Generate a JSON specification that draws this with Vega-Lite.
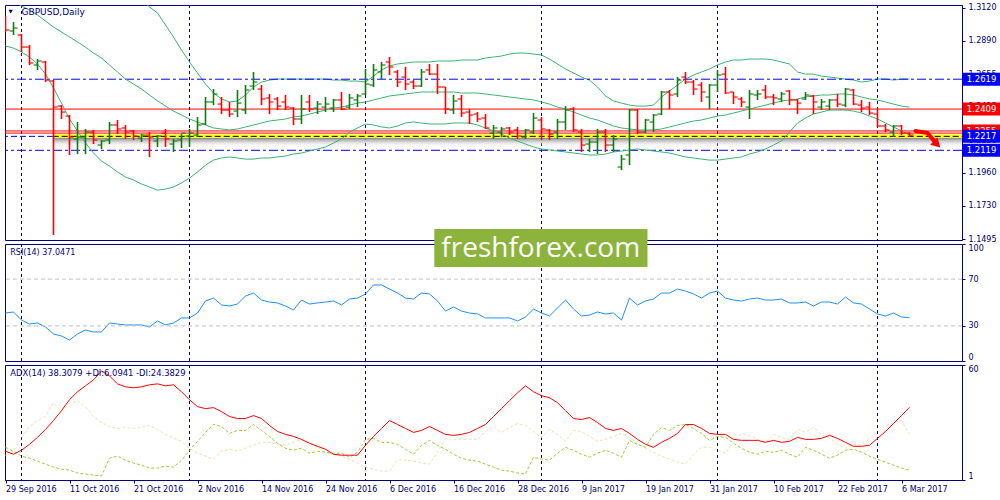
{
"$schema":"https://vega.github.io/schema/vega-lite/v6.json",
"background":"white",
"padding":{"left":3,"top":3,"right":0,"bottom":0},
"spacing":4,
"bounds":"flush",
"config":{
 "view":{"stroke":"#000080","strokeWidth":1,"fill":"white"},
 "axis":{"labelFont":"DejaVu Sans","labelFontSize":8,"labelColor":"#000066","domainColor":"#000080","tickColor":"#000080","grid":false,"tickSize":3,"labelPadding":3,"labelOverlap":false},
 "text":{"font":"DejaVu Sans"}
},
"datasets":{
"seps":[{"i":2},{"i":23},{"i":45},{"i":67},{"i":89},{"i":109}],
"bars":[
{"i":0,"o":1.3056,"h":1.3060,"l":1.2951,"c":1.2965,"u":1.3584,"m":1.3197,"lb":1.2852,"rsi":41.0,"adx":15.75,"pdi":17.78,"mdi":13.72},
{"i":1,"o":1.2958,"h":1.3021,"l":1.2930,"c":1.2979,"u":1.3570,"m":1.3169,"lb":1.2838,"rsi":41.9,"adx":14.22,"pdi":15.75,"mdi":15.75},
{"i":2,"o":1.2930,"h":1.2937,"l":1.2810,"c":1.2845,"u":1.3549,"m":1.3134,"lb":1.2810,"rsi":35.0,"adx":16.26,"pdi":13.21,"mdi":22.36},
{"i":3,"o":1.2845,"h":1.2860,"l":1.2719,"c":1.2733,"u":1.3528,"m":1.3106,"lb":1.2775,"rsi":31.6,"adx":19.31,"pdi":12.19,"mdi":28.46},
{"i":4,"o":1.2719,"h":1.2761,"l":1.2684,"c":1.2747,"u":1.3514,"m":1.3071,"lb":1.2726,"rsi":32.5,"adx":22.87,"pdi":10.66,"mdi":31.52},
{"i":5,"o":1.2740,"h":1.2747,"l":1.2599,"c":1.2613,"u":1.3500,"m":1.3028,"lb":1.2655,"rsi":29.1,"adx":26.94,"pdi":9.14,"mdi":33.55},
{"i":6,"o":1.2606,"h":1.2613,"l":1.1523,"c":1.2423,"u":1.3486,"m":1.2986,"lb":1.2557,"rsi":23.1,"adx":31.52,"pdi":7.61,"mdi":40.67},
{"i":7,"o":1.2430,"h":1.2437,"l":1.2339,"c":1.2388,"u":1.3472,"m":1.2951,"lb":1.2451,"rsi":21.4,"adx":36.60,"pdi":6.59,"mdi":36.09},
{"i":8,"o":1.2360,"h":1.2367,"l":1.2086,"c":1.2212,"u":1.3457,"m":1.2916,"lb":1.2339,"rsi":17.9,"adx":42.20,"pdi":6.09,"mdi":40.16},
{"i":9,"o":1.2198,"h":1.2318,"l":1.2093,"c":1.2212,"u":1.3443,"m":1.2881,"lb":1.2255,"rsi":23.1,"adx":46.27,"pdi":4.56,"mdi":41.69},
{"i":10,"o":1.2212,"h":1.2269,"l":1.2093,"c":1.2247,"u":1.3429,"m":1.2845,"lb":1.2170,"rsi":26.5,"adx":49.32,"pdi":4.05,"mdi":38.64},
{"i":11,"o":1.2247,"h":1.2262,"l":1.2163,"c":1.2191,"u":1.3415,"m":1.2803,"lb":1.2100,"rsi":24.8,"adx":52.37,"pdi":3.54,"mdi":33.55},
{"i":12,"o":1.2156,"h":1.2191,"l":1.2128,"c":1.2184,"u":1.3401,"m":1.2768,"lb":1.2043,"rsi":24.8,"adx":56.95,"pdi":3.03,"mdi":30.50},
{"i":13,"o":1.2191,"h":1.2318,"l":1.2163,"c":1.2297,"u":1.3373,"m":1.2719,"lb":1.2008,"rsi":32.5,"adx":54.40,"pdi":12.19,"mdi":28.46},
{"i":14,"o":1.2297,"h":1.2332,"l":1.2233,"c":1.2269,"u":1.3338,"m":1.2670,"lb":1.1966,"rsi":31.6,"adx":50.33,"pdi":13.21,"mdi":27.45},
{"i":15,"o":1.2276,"h":1.2297,"l":1.2198,"c":1.2247,"u":1.3289,"m":1.2620,"lb":1.1931,"rsi":30.8,"adx":48.81,"pdi":11.17,"mdi":27.96},
{"i":16,"o":1.2255,"h":1.2262,"l":1.2191,"c":1.2219,"u":1.3232,"m":1.2585,"lb":1.1910,"rsi":30.8,"adx":48.30,"pdi":9.65,"mdi":27.45},
{"i":17,"o":1.2205,"h":1.2233,"l":1.2177,"c":1.2226,"u":1.3183,"m":1.2550,"lb":1.1882,"rsi":30.8,"adx":48.81,"pdi":8.63,"mdi":27.96},
{"i":18,"o":1.2226,"h":1.2247,"l":1.2072,"c":1.2212,"u":1.3127,"m":1.2508,"lb":1.1861,"rsi":29.1,"adx":49.83,"pdi":7.10,"mdi":28.97},
{"i":19,"o":1.2184,"h":1.2226,"l":1.2142,"c":1.2219,"u":1.3085,"m":1.2466,"lb":1.1839,"rsi":34.2,"adx":50.33,"pdi":7.10,"mdi":26.94},
{"i":20,"o":1.2240,"h":1.2269,"l":1.2142,"c":1.2198,"u":1.3000,"m":1.2430,"lb":1.1846,"rsi":30.8,"adx":49.32,"pdi":8.12,"mdi":24.40},
{"i":21,"o":1.2163,"h":1.2198,"l":1.2107,"c":1.2184,"u":1.2916,"m":1.2395,"lb":1.1861,"rsi":32.5,"adx":49.83,"pdi":7.61,"mdi":22.36},
{"i":22,"o":1.2191,"h":1.2233,"l":1.2135,"c":1.2240,"u":1.2824,"m":1.2367,"lb":1.1889,"rsi":36.8,"adx":46.27,"pdi":11.17,"mdi":20.84},
{"i":23,"o":1.2219,"h":1.2269,"l":1.2142,"c":1.2240,"u":1.2740,"m":1.2339,"lb":1.1924,"rsi":36.8,"adx":42.20,"pdi":16.26,"mdi":17.28},
{"i":24,"o":1.2226,"h":1.2353,"l":1.2212,"c":1.2297,"u":1.2663,"m":1.2318,"lb":1.1966,"rsi":41.0,"adx":38.64,"pdi":20.84,"mdi":14.73},
{"i":25,"o":1.2304,"h":1.2494,"l":1.2297,"c":1.2459,"u":1.2585,"m":1.2297,"lb":1.2015,"rsi":51.3,"adx":37.62,"pdi":25.41,"mdi":13.21},
{"i":26,"o":1.2459,"h":1.2550,"l":1.2437,"c":1.2515,"u":1.2522,"m":1.2276,"lb":1.2050,"rsi":53.8,"adx":38.13,"pdi":29.48,"mdi":11.68},
{"i":27,"o":1.2444,"h":1.2494,"l":1.2374,"c":1.2402,"u":1.2480,"m":1.2269,"lb":1.2065,"rsi":47.9,"adx":36.09,"pdi":28.46,"mdi":15.75},
{"i":28,"o":1.2402,"h":1.2459,"l":1.2353,"c":1.2374,"u":1.2459,"m":1.2262,"lb":1.2072,"rsi":47.0,"adx":33.55,"pdi":24.90,"mdi":16.77},
{"i":29,"o":1.2395,"h":1.2543,"l":1.2353,"c":1.2451,"u":1.2466,"m":1.2269,"lb":1.2065,"rsi":48.7,"adx":32.53,"pdi":26.43,"mdi":15.75},
{"i":30,"o":1.2402,"h":1.2578,"l":1.2374,"c":1.2543,"u":1.2508,"m":1.2283,"lb":1.2057,"rsi":55.6,"adx":32.53,"pdi":26.43,"mdi":17.28},
{"i":31,"o":1.2571,"h":1.2670,"l":1.2543,"c":1.2599,"u":1.2564,"m":1.2297,"lb":1.2057,"rsi":58.1,"adx":34.06,"pdi":29.48,"mdi":18.80},
{"i":32,"o":1.2550,"h":1.2578,"l":1.2437,"c":1.2480,"u":1.2599,"m":1.2311,"lb":1.2065,"rsi":52.1,"adx":32.53,"pdi":26.43,"mdi":20.33},
{"i":33,"o":1.2487,"h":1.2515,"l":1.2374,"c":1.2459,"u":1.2613,"m":1.2325,"lb":1.2065,"rsi":50.4,"adx":28.97,"pdi":23.38,"mdi":20.33},
{"i":34,"o":1.2480,"h":1.2494,"l":1.2402,"c":1.2430,"u":1.2620,"m":1.2332,"lb":1.2072,"rsi":49.6,"adx":25.92,"pdi":19.82,"mdi":19.31},
{"i":35,"o":1.2459,"h":1.2508,"l":1.2402,"c":1.2423,"u":1.2620,"m":1.2339,"lb":1.2079,"rsi":47.0,"adx":24.40,"pdi":17.28,"mdi":18.80},
{"i":36,"o":1.2416,"h":1.2423,"l":1.2297,"c":1.2339,"u":1.2620,"m":1.2353,"lb":1.2093,"rsi":43.6,"adx":23.38,"pdi":16.26,"mdi":20.33},
{"i":37,"o":1.2339,"h":1.2508,"l":1.2304,"c":1.2409,"u":1.2620,"m":1.2360,"lb":1.2100,"rsi":52.1,"adx":21.85,"pdi":17.28,"mdi":21.85},
{"i":38,"o":1.2459,"h":1.2508,"l":1.2388,"c":1.2409,"u":1.2620,"m":1.2374,"lb":1.2114,"rsi":48.7,"adx":19.82,"pdi":14.73,"mdi":20.33},
{"i":39,"o":1.2416,"h":1.2466,"l":1.2374,"c":1.2444,"u":1.2620,"m":1.2388,"lb":1.2128,"rsi":49.6,"adx":18.29,"pdi":15.75,"mdi":17.78},
{"i":40,"o":1.2423,"h":1.2494,"l":1.2388,"c":1.2444,"u":1.2620,"m":1.2402,"lb":1.2142,"rsi":50.4,"adx":16.77,"pdi":15.24,"mdi":15.24},
{"i":41,"o":1.2416,"h":1.2480,"l":1.2388,"c":1.2473,"u":1.2613,"m":1.2416,"lb":1.2170,"rsi":51.3,"adx":14.22,"pdi":14.73,"mdi":14.22},
{"i":42,"o":1.2473,"h":1.2529,"l":1.2402,"c":1.2409,"u":1.2613,"m":1.2423,"lb":1.2198,"rsi":47.9,"adx":13.72,"pdi":14.73,"mdi":13.21},
{"i":43,"o":1.2423,"h":1.2515,"l":1.2409,"c":1.2487,"u":1.2606,"m":1.2437,"lb":1.2247,"rsi":53.0,"adx":13.72,"pdi":12.70,"mdi":11.68},
{"i":44,"o":1.2473,"h":1.2515,"l":1.2423,"c":1.2501,"u":1.2606,"m":1.2451,"lb":1.2276,"rsi":53.8,"adx":13.72,"pdi":15.24,"mdi":9.65},
{"i":45,"o":1.2515,"h":1.2691,"l":1.2508,"c":1.2585,"u":1.2599,"m":1.2459,"lb":1.2304,"rsi":57.3,"adx":18.80,"pdi":21.85,"mdi":7.61},
{"i":46,"o":1.2578,"h":1.2726,"l":1.2564,"c":1.2684,"u":1.2641,"m":1.2473,"lb":1.2297,"rsi":65.0,"adx":23.38,"pdi":22.36,"mdi":6.59},
{"i":47,"o":1.2670,"h":1.2740,"l":1.2620,"c":1.2719,"u":1.2684,"m":1.2487,"lb":1.2283,"rsi":65.0,"adx":27.45,"pdi":20.33,"mdi":5.58},
{"i":48,"o":1.2740,"h":1.2775,"l":1.2648,"c":1.2705,"u":1.2712,"m":1.2501,"lb":1.2276,"rsi":61.5,"adx":31.52,"pdi":20.33,"mdi":5.58},
{"i":49,"o":1.2670,"h":1.2684,"l":1.2564,"c":1.2599,"u":1.2726,"m":1.2508,"lb":1.2290,"rsi":58.1,"adx":29.48,"pdi":19.31,"mdi":11.68},
{"i":50,"o":1.2634,"h":1.2705,"l":1.2543,"c":1.2585,"u":1.2733,"m":1.2515,"lb":1.2311,"rsi":53.8,"adx":27.45,"pdi":16.77,"mdi":11.17},
{"i":51,"o":1.2599,"h":1.2613,"l":1.2550,"c":1.2571,"u":1.2740,"m":1.2522,"lb":1.2318,"rsi":53.0,"adx":25.41,"pdi":14.22,"mdi":10.66},
{"i":52,"o":1.2571,"h":1.2691,"l":1.2564,"c":1.2670,"u":1.2740,"m":1.2529,"lb":1.2311,"rsi":58.1,"adx":26.43,"pdi":18.80,"mdi":9.65},
{"i":53,"o":1.2684,"h":1.2726,"l":1.2648,"c":1.2655,"u":1.2740,"m":1.2529,"lb":1.2304,"rsi":57.3,"adx":28.46,"pdi":21.34,"mdi":9.14},
{"i":54,"o":1.2655,"h":1.2726,"l":1.2515,"c":1.2564,"u":1.2747,"m":1.2529,"lb":1.2304,"rsi":51.3,"adx":26.43,"pdi":18.80,"mdi":15.24},
{"i":55,"o":1.2564,"h":1.2564,"l":1.2374,"c":1.2409,"u":1.2747,"m":1.2529,"lb":1.2304,"rsi":42.7,"adx":24.40,"pdi":16.77,"mdi":22.36},
{"i":56,"o":1.2402,"h":1.2508,"l":1.2374,"c":1.2466,"u":1.2747,"m":1.2529,"lb":1.2311,"rsi":46.2,"adx":23.89,"pdi":14.22,"mdi":21.85},
{"i":57,"o":1.2480,"h":1.2508,"l":1.2353,"c":1.2381,"u":1.2754,"m":1.2522,"lb":1.2311,"rsi":42.7,"adx":24.40,"pdi":12.19,"mdi":21.85},
{"i":58,"o":1.2388,"h":1.2409,"l":1.2304,"c":1.2367,"u":1.2754,"m":1.2522,"lb":1.2311,"rsi":41.0,"adx":25.41,"pdi":11.17,"mdi":21.85},
{"i":59,"o":1.2374,"h":1.2388,"l":1.2318,"c":1.2339,"u":1.2754,"m":1.2522,"lb":1.2297,"rsi":40.2,"adx":27.45,"pdi":10.66,"mdi":21.85},
{"i":60,"o":1.2346,"h":1.2374,"l":1.2269,"c":1.2276,"u":1.2768,"m":1.2515,"lb":1.2276,"rsi":36.8,"adx":29.48,"pdi":9.14,"mdi":25.92},
{"i":61,"o":1.2240,"h":1.2297,"l":1.2198,"c":1.2276,"u":1.2775,"m":1.2508,"lb":1.2255,"rsi":36.8,"adx":33.55,"pdi":7.61,"mdi":28.46},
{"i":62,"o":1.2247,"h":1.2283,"l":1.2212,"c":1.2269,"u":1.2782,"m":1.2501,"lb":1.2233,"rsi":36.8,"adx":37.62,"pdi":6.09,"mdi":25.41},
{"i":63,"o":1.2276,"h":1.2283,"l":1.2226,"c":1.2247,"u":1.2796,"m":1.2494,"lb":1.2205,"rsi":36.8,"adx":41.69,"pdi":5.58,"mdi":27.96},
{"i":64,"o":1.2262,"h":1.2283,"l":1.2198,"c":1.2219,"u":1.2803,"m":1.2487,"lb":1.2184,"rsi":34.2,"adx":45.76,"pdi":4.56,"mdi":29.99},
{"i":65,"o":1.2212,"h":1.2269,"l":1.2198,"c":1.2262,"u":1.2803,"m":1.2480,"lb":1.2163,"rsi":37.6,"adx":49.32,"pdi":4.05,"mdi":28.97},
{"i":66,"o":1.2247,"h":1.2381,"l":1.2233,"c":1.2346,"u":1.2796,"m":1.2473,"lb":1.2142,"rsi":44.4,"adx":46.27,"pdi":12.70,"mdi":25.92},
{"i":67,"o":1.2332,"h":1.2353,"l":1.2191,"c":1.2269,"u":1.2789,"m":1.2459,"lb":1.2128,"rsi":41.0,"adx":44.23,"pdi":11.68,"mdi":22.87},
{"i":68,"o":1.2262,"h":1.2269,"l":1.2191,"c":1.2233,"u":1.2761,"m":1.2444,"lb":1.2121,"rsi":38.5,"adx":43.21,"pdi":11.17,"mdi":26.94},
{"i":69,"o":1.2247,"h":1.2339,"l":1.2198,"c":1.2318,"u":1.2726,"m":1.2423,"lb":1.2114,"rsi":45.3,"adx":40.67,"pdi":14.73,"mdi":24.40},
{"i":70,"o":1.2318,"h":1.2430,"l":1.2262,"c":1.2402,"u":1.2691,"m":1.2409,"lb":1.2107,"rsi":52.1,"adx":36.60,"pdi":17.78,"mdi":20.84},
{"i":71,"o":1.2409,"h":1.2423,"l":1.2247,"c":1.2262,"u":1.2663,"m":1.2388,"lb":1.2100,"rsi":44.4,"adx":32.53,"pdi":16.26,"mdi":26.43},
{"i":72,"o":1.2247,"h":1.2269,"l":1.2107,"c":1.2156,"u":1.2634,"m":1.2367,"lb":1.2093,"rsi":38.5,"adx":32.02,"pdi":14.22,"mdi":25.92},
{"i":73,"o":1.2163,"h":1.2198,"l":1.2107,"c":1.2177,"u":1.2613,"m":1.2346,"lb":1.2086,"rsi":39.3,"adx":33.04,"pdi":12.70,"mdi":23.38},
{"i":74,"o":1.2177,"h":1.2269,"l":1.2093,"c":1.2247,"u":1.2564,"m":1.2332,"lb":1.2086,"rsi":41.9,"adx":30.50,"pdi":14.73,"mdi":20.84},
{"i":75,"o":1.2247,"h":1.2269,"l":1.2107,"c":1.2156,"u":1.2501,"m":1.2311,"lb":1.2093,"rsi":40.2,"adx":27.45,"pdi":16.26,"mdi":21.85},
{"i":76,"o":1.2156,"h":1.2226,"l":1.2107,"c":1.2198,"u":1.2466,"m":1.2290,"lb":1.2107,"rsi":41.0,"adx":26.43,"pdi":14.73,"mdi":23.38},
{"i":77,"o":1.2001,"h":1.2086,"l":1.1980,"c":1.2057,"u":1.2451,"m":1.2276,"lb":1.2114,"rsi":35.0,"adx":27.45,"pdi":12.70,"mdi":24.90},
{"i":78,"o":1.2086,"h":1.2409,"l":1.2015,"c":1.2402,"u":1.2437,"m":1.2269,"lb":1.2121,"rsi":53.8,"adx":24.90,"pdi":21.34,"mdi":22.87},
{"i":79,"o":1.2402,"h":1.2409,"l":1.2233,"c":1.2247,"u":1.2430,"m":1.2262,"lb":1.2128,"rsi":47.9,"adx":21.85,"pdi":19.31,"mdi":19.82},
{"i":80,"o":1.2247,"h":1.2339,"l":1.2240,"c":1.2332,"u":1.2430,"m":1.2262,"lb":1.2121,"rsi":51.3,"adx":19.31,"pdi":17.78,"mdi":17.28},
{"i":81,"o":1.2318,"h":1.2374,"l":1.2247,"c":1.2367,"u":1.2437,"m":1.2262,"lb":1.2114,"rsi":53.0,"adx":17.78,"pdi":24.40,"mdi":15.24},
{"i":82,"o":1.2374,"h":1.2536,"l":1.2367,"c":1.2529,"u":1.2494,"m":1.2269,"lb":1.2107,"rsi":58.1,"adx":20.33,"pdi":27.96,"mdi":13.21},
{"i":83,"o":1.2529,"h":1.2543,"l":1.2409,"c":1.2508,"u":1.2536,"m":1.2283,"lb":1.2100,"rsi":58.1,"adx":22.36,"pdi":26.43,"mdi":11.68},
{"i":84,"o":1.2515,"h":1.2634,"l":1.2494,"c":1.2613,"u":1.2578,"m":1.2297,"lb":1.2086,"rsi":61.5,"adx":24.90,"pdi":28.97,"mdi":10.15},
{"i":85,"o":1.2634,"h":1.2670,"l":1.2585,"c":1.2599,"u":1.2620,"m":1.2311,"lb":1.2072,"rsi":59.8,"adx":29.48,"pdi":29.48,"mdi":9.14},
{"i":86,"o":1.2599,"h":1.2613,"l":1.2508,"c":1.2550,"u":1.2648,"m":1.2325,"lb":1.2065,"rsi":57.3,"adx":29.48,"pdi":27.45,"mdi":14.22},
{"i":87,"o":1.2578,"h":1.2599,"l":1.2459,"c":1.2529,"u":1.2670,"m":1.2332,"lb":1.2057,"rsi":53.8,"adx":27.45,"pdi":24.90,"mdi":17.78},
{"i":88,"o":1.2494,"h":1.2585,"l":1.2409,"c":1.2578,"u":1.2691,"m":1.2346,"lb":1.2050,"rsi":58.1,"adx":24.90,"pdi":21.34,"mdi":17.78},
{"i":89,"o":1.2578,"h":1.2684,"l":1.2529,"c":1.2648,"u":1.2719,"m":1.2360,"lb":1.2050,"rsi":59.8,"adx":24.40,"pdi":23.38,"mdi":16.26},
{"i":90,"o":1.2655,"h":1.2705,"l":1.2515,"c":1.2522,"u":1.2740,"m":1.2367,"lb":1.2057,"rsi":53.8,"adx":24.40,"pdi":22.87,"mdi":14.73},
{"i":91,"o":1.2529,"h":1.2529,"l":1.2444,"c":1.2494,"u":1.2754,"m":1.2381,"lb":1.2065,"rsi":52.1,"adx":21.85,"pdi":19.82,"mdi":20.33},
{"i":92,"o":1.2480,"h":1.2494,"l":1.2423,"c":1.2459,"u":1.2754,"m":1.2395,"lb":1.2072,"rsi":51.3,"adx":21.34,"pdi":17.28,"mdi":24.90},
{"i":93,"o":1.2423,"h":1.2543,"l":1.2339,"c":1.2515,"u":1.2761,"m":1.2409,"lb":1.2093,"rsi":53.0,"adx":21.34,"pdi":15.24,"mdi":23.89},
{"i":94,"o":1.2508,"h":1.2543,"l":1.2473,"c":1.2515,"u":1.2761,"m":1.2423,"lb":1.2107,"rsi":53.8,"adx":21.34,"pdi":14.22,"mdi":21.85},
{"i":95,"o":1.2543,"h":1.2578,"l":1.2480,"c":1.2494,"u":1.2761,"m":1.2437,"lb":1.2128,"rsi":52.1,"adx":20.33,"pdi":15.75,"mdi":20.33},
{"i":96,"o":1.2494,"h":1.2515,"l":1.2437,"c":1.2487,"u":1.2754,"m":1.2451,"lb":1.2156,"rsi":52.1,"adx":21.34,"pdi":15.24,"mdi":24.40},
{"i":97,"o":1.2480,"h":1.2529,"l":1.2459,"c":1.2515,"u":1.2740,"m":1.2466,"lb":1.2184,"rsi":53.0,"adx":20.33,"pdi":16.26,"mdi":22.87},
{"i":98,"o":1.2536,"h":1.2543,"l":1.2437,"c":1.2473,"u":1.2726,"m":1.2473,"lb":1.2247,"rsi":49.6,"adx":20.84,"pdi":14.22,"mdi":21.85},
{"i":99,"o":1.2473,"h":1.2480,"l":1.2374,"c":1.2451,"u":1.2670,"m":1.2480,"lb":1.2311,"rsi":49.6,"adx":22.87,"pdi":12.70,"mdi":26.94},
{"i":100,"o":1.2480,"h":1.2529,"l":1.2473,"c":1.2508,"u":1.2655,"m":1.2494,"lb":1.2346,"rsi":50.4,"adx":21.85,"pdi":17.78,"mdi":25.41},
{"i":101,"o":1.2501,"h":1.2508,"l":1.2374,"c":1.2459,"u":1.2655,"m":1.2501,"lb":1.2374,"rsi":47.0,"adx":21.85,"pdi":16.26,"mdi":27.96},
{"i":102,"o":1.2423,"h":1.2480,"l":1.2402,"c":1.2459,"u":1.2641,"m":1.2508,"lb":1.2388,"rsi":50.4,"adx":22.36,"pdi":14.22,"mdi":24.40},
{"i":103,"o":1.2430,"h":1.2480,"l":1.2402,"c":1.2473,"u":1.2634,"m":1.2508,"lb":1.2402,"rsi":50.4,"adx":23.89,"pdi":12.19,"mdi":22.36},
{"i":104,"o":1.2473,"h":1.2515,"l":1.2423,"c":1.2444,"u":1.2627,"m":1.2515,"lb":1.2402,"rsi":48.7,"adx":22.36,"pdi":13.72,"mdi":19.31},
{"i":105,"o":1.2437,"h":1.2557,"l":1.2423,"c":1.2550,"u":1.2620,"m":1.2515,"lb":1.2402,"rsi":54.7,"adx":20.33,"pdi":16.26,"mdi":17.28},
{"i":106,"o":1.2543,"h":1.2550,"l":1.2437,"c":1.2444,"u":1.2613,"m":1.2508,"lb":1.2395,"rsi":49.6,"adx":18.29,"pdi":16.77,"mdi":19.31},
{"i":107,"o":1.2437,"h":1.2473,"l":1.2388,"c":1.2416,"u":1.2599,"m":1.2494,"lb":1.2381,"rsi":48.7,"adx":18.29,"pdi":15.24,"mdi":18.80},
{"i":108,"o":1.2423,"h":1.2459,"l":1.2367,"c":1.2381,"u":1.2606,"m":1.2480,"lb":1.2360,"rsi":44.4,"adx":18.80,"pdi":13.21,"mdi":22.36},
{"i":109,"o":1.2374,"h":1.2409,"l":1.2283,"c":1.2290,"u":1.2620,"m":1.2473,"lb":1.2339,"rsi":40.2,"adx":22.36,"pdi":11.68,"mdi":25.41},
{"i":110,"o":1.2290,"h":1.2304,"l":1.2247,"c":1.2262,"u":1.2620,"m":1.2459,"lb":1.2311,"rsi":38.5,"adx":25.92,"pdi":10.15,"mdi":28.97},
{"i":111,"o":1.2247,"h":1.2297,"l":1.2212,"c":1.2290,"u":1.2613,"m":1.2444,"lb":1.2283,"rsi":41.0,"adx":29.99,"pdi":8.63,"mdi":30.50},
{"i":112,"o":1.2290,"h":1.2297,"l":1.2226,"c":1.2240,"u":1.2620,"m":1.2430,"lb":1.2255,"rsi":37.6,"adx":34.06,"pdi":7.10,"mdi":31.52},
{"i":113,"o":1.2240,"h":1.2247,"l":1.2212,"c":1.2226,"u":1.2620,"m":1.2423,"lb":1.2226,"rsi":37.05,"adx":38.31,"pdi":6.09,"mdi":24.38}
]
},
"vconcat":[
{
 "width":957,"height":235,
 "data":{"name":"bars"},
 "layer":[
  {"data":{"name":"seps"},"mark":{"type":"rule","color":"#000080","strokeDash":[3,3],"strokeWidth":1},
   "encoding":{"x":{"field":"i","type":"quantitative","scale":{"domain":[-0.0625,119.5625],"nice":false,"zero":false},"axis":null}}},
  {"mark":{"type":"line","color":"#3cb371","strokeWidth":1,"clip":true},
   "encoding":{"x":{"field":"i","type":"quantitative","axis":null},"y":{"field":"u","type":"quantitative","scale":{"domain":[1.1488,1.3141],"nice":false,"zero":false},"axis":{"orient":"right","values":[1.1495,1.173,1.196,1.219,1.2425,1.2655,1.289,1.312],"tickCount":20,"format":".4f","title":null,"labelOverlap":false}}}},
  {"data":{"values":[{}]},"mark":{"type":"rule","color":"#0000ff","strokeDash":[9,3,3,3],"strokeWidth":1},
   "encoding":{"y":{"datum":1.2619}}},
  {"data":{"values":[{}]},"mark":{"type":"rule","color":"#0000ff","strokeDash":[9,3,3,3],"strokeWidth":1},
   "encoding":{"y":{"datum":1.2119}}},
  {"data":{"values":[{}]},"mark":{"type":"rule","color":"#0000ff","strokeDash":[6,3],"strokeWidth":1},
   "encoding":{"y":{"datum":1.2217}}},
  {"data":{"values":[{}]},"mark":{"type":"rule","color":"#ff0000","strokeWidth":1},
   "encoding":{"y":{"datum":1.2409}}},
  {"data":{"values":[{}]},"mark":{"type":"rule","color":"#ff0000","strokeWidth":1},
   "encoding":{"y":{"datum":1.2255}}},
  {"data":{"values":[{}]},"mark":{"type":"rule","color":"#ff0000","strokeWidth":1},
   "encoding":{"y":{"datum":1.2240}}},
  {"data":{"values":[{}]},"mark":{"type":"rect","color":{"gradient":"linear","x1":0,"y1":0,"x2":0,"y2":1,"stops":[{"offset":0,"color":"#808080"},{"offset":1,"color":"rgba(255,255,255,0)"}]}},
   "encoding":{"x":{"datum":5.9,"axis":null},"x2":{"datum":119.5625},"y":{"datum":1.2207},"y2":{"datum":1.2140}}},
  {"data":{"values":[{}]},"mark":{"type":"rule","color":"#ffff00","strokeWidth":3.5},
   "encoding":{"x":{"datum":5.9,"axis":null},"x2":{"datum":119.5625},"y":{"datum":1.2217}}},
  {"data":{"values":[{}]},"mark":{"type":"rule","color":"#000000","strokeDash":[6,3],"strokeWidth":1},
   "encoding":{"x":{"datum":5.9,"axis":null},"x2":{"datum":119.5625},"y":{"datum":1.2217}}},
  {"mark":{"type":"line","color":"#3cb371","strokeWidth":1,"clip":true},
   "encoding":{"x":{"field":"i","type":"quantitative","axis":null},"y":{"field":"m","type":"quantitative"}}},
  {"mark":{"type":"line","color":"#3cb371","strokeWidth":1,"clip":true},
   "encoding":{"x":{"field":"i","type":"quantitative","axis":null},"y":{"field":"lb","type":"quantitative"}}},
  {"mark":{"type":"rule","strokeWidth":1.6,"clip":true},
   "encoding":{"x":{"field":"i","type":"quantitative","axis":null},"y":{"field":"l","type":"quantitative"},"y2":{"field":"h"},
    "color":{"condition":{"test":"datum.c >= datum.o","value":"#117a11"},"value":"#ff0000"}}},
  {"mark":{"type":"tick","orient":"horizontal","size":4,"thickness":1.6,"xOffset":-2,"clip":true},
   "encoding":{"x":{"field":"i","type":"quantitative","axis":null},"y":{"field":"o","type":"quantitative"},
    "color":{"condition":{"test":"datum.c >= datum.o","value":"#117a11"},"value":"#ff0000"}}},
  {"mark":{"type":"tick","orient":"horizontal","size":4,"thickness":1.6,"xOffset":2,"clip":true},
   "encoding":{"x":{"field":"i","type":"quantitative","axis":null},"y":{"field":"c","type":"quantitative"},
    "color":{"condition":{"test":"datum.c >= datum.o","value":"#117a11"},"value":"#ff0000"}}},
  {"data":{"values":[{"i":113.75,"p":1.2255},{"i":115.25,"p":1.2240},{"i":116.2,"p":1.2178}]},
   "mark":{"type":"line","color":"#ff0000","strokeWidth":4,"strokeCap":"round"},
   "encoding":{"x":{"field":"i","type":"quantitative","axis":null},"y":{"field":"p","type":"quantitative"}}},
  {"data":{"values":[{}]},"mark":{"type":"point","shape":"triangle-down","filled":true,"color":"#ff0000","opacity":1,"size":110,"angle":-45},
   "encoding":{"x":{"datum":116.45,"axis":null},"y":{"datum":1.2162}}},
  {"data":{"values":[{"p":1.2409},{"p":1.2255}]},
   "mark":{"type":"tick","orient":"horizontal","size":38,"thickness":13,"color":"#ff0000","opacity":1},
   "encoding":{"x":{"datum":122.0,"axis":null},"y":{"field":"p","type":"quantitative"}}},
  {"data":{"values":[{"p":1.2409},{"p":1.2255}]},
   "mark":{"type":"text","color":"#ffffff","fontSize":8.5,"align":"center","baseline":"middle"},
   "encoding":{"x":{"datum":122.0,"axis":null},"y":{"field":"p","type":"quantitative"},"text":{"field":"p","type":"quantitative","format":".4f"}}},
  {"data":{"values":[{"p":1.2619},{"p":1.2217},{"p":1.2119}]},
   "mark":{"type":"tick","orient":"horizontal","size":38,"thickness":13,"color":"#0000ff","opacity":1},
   "encoding":{"x":{"datum":122.0,"axis":null},"y":{"field":"p","type":"quantitative"}}},
  {"data":{"values":[{"p":1.2619},{"p":1.2217},{"p":1.2119}]},
   "mark":{"type":"text","color":"#ffffff","fontSize":8.5,"align":"center","baseline":"middle"},
   "encoding":{"x":{"datum":122.0,"axis":null},"y":{"field":"p","type":"quantitative"},"text":{"field":"p","type":"quantitative","format":".4f"}}},
  {"data":{"values":[{}]},"mark":{"type":"point","shape":"triangle-down","filled":true,"color":"#000080","opacity":1,"size":18},
   "encoding":{"x":{"datum":0.65,"axis":null},"y":{"datum":1.3094}}},
  {"data":{"values":[{}]},"mark":{"type":"text","text":"GBPUSD,Daily","align":"left","baseline":"middle","fontSize":9,"color":"#000080"},
   "encoding":{"x":{"datum":2.0,"axis":null},"y":{"datum":1.3092}}}
 ]
},
{
 "width":957,"height":117,
 "data":{"name":"bars"},
 "layer":[
  {"data":{"name":"seps"},"mark":{"type":"rule","color":"#000080","strokeDash":[3,3],"strokeWidth":1},
   "encoding":{"x":{"field":"i","type":"quantitative","scale":{"domain":[-0.0625,119.5625],"nice":false,"zero":false},"axis":null}}},
  {"mark":{"type":"line","color":"#1e90ff","strokeWidth":1},
   "encoding":{"x":{"field":"i","type":"quantitative","axis":null},"y":{"field":"rsi","type":"quantitative","scale":{"domain":[0,100],"nice":false,"zero":false},"axis":{"orient":"right","values":[0,30,70,100],"tickCount":20,"title":null,"labelFlush":true,"labelOverlap":false}}}},
  {"data":{"values":[{"v":70},{"v":30}]},"mark":{"type":"rule","color":"#c0c0c0","strokeDash":[4,3],"strokeWidth":1},
   "encoding":{"y":{"field":"v","type":"quantitative"}}},
  {"data":{"values":[{}]},"mark":{"type":"text","text":"RSI(14) 37.0471","align":"left","baseline":"middle","fontSize":8,"color":"#000080"},
   "encoding":{"x":{"datum":0.6,"axis":null},"y":{"datum":92.5}}},
  {"data":{"values":[{}]},"mark":{"type":"rect","color":"#8cb43c","opacity":1},
   "encoding":{"x":{"datum":53.6,"axis":null},"x2":{"datum":80.25},"y":{"datum":112.8},"y2":{"datum":80.3}}},
  {"data":{"values":[{}]},"mark":{"type":"text","text":"freshforex.com","align":"center","baseline":"middle","fontSize":28,"font":"Open Sans","color":"#ffffff"},
   "encoding":{"x":{"datum":66.9,"axis":null},"y":{"datum":96.0}}}
 ]
},
{
 "width":957,"height":115,
 "data":{"name":"bars"},
 "layer":[
  {"data":{"name":"seps"},"mark":{"type":"rule","color":"#000080","strokeDash":[3,3],"strokeWidth":1},
   "encoding":{"x":{"field":"i","type":"quantitative","scale":{"domain":[-0.0625,119.5625],"nice":false,"zero":false},
     "axis":{"values":[0,8,16,24,32,40,48,56,64,72,80,88,96,104,112],"tickCount":30,"labelExpr":"['29 Sep 2016','11 Oct 2016','21 Oct 2016','2 Nov 2016','14 Nov 2016','24 Nov 2016','6 Dec 2016','16 Dec 2016','28 Dec 2016','9 Jan 2017','19 Jan 2017','31 Jan 2017','10 Feb 2017','22 Feb 2017','6 Mar 2017'][round(datum.value/8)]","labelAlign":"left","labelOverlap":false,"labelPadding":2,"title":null}}}},
  {"mark":{"type":"line","color":"#f5deb3","strokeWidth":1,"strokeDash":[3,2]},
   "encoding":{"x":{"field":"i","type":"quantitative"},"y":{"field":"mdi","type":"quantitative","scale":{"domain":[1,60],"nice":false,"zero":false},"axis":{"orient":"right","values":[1,60],"title":null,"labelFlush":true,"labelOverlap":false}}}},
  {"mark":{"type":"line","color":"#9acd32","strokeWidth":1,"strokeDash":[3,2]},
   "encoding":{"x":{"field":"i","type":"quantitative"},"y":{"field":"pdi","type":"quantitative"}}},
  {"mark":{"type":"line","color":"#ff0000","strokeWidth":1},
   "encoding":{"x":{"field":"i","type":"quantitative"},"y":{"field":"adx","type":"quantitative"}}},
  {"data":{"values":[{}]},"mark":{"type":"text","text":"ADX(14) 38.3079 +DI:6.0941 -DI:24.3829","align":"left","baseline":"middle","fontSize":8.4,"color":"#000080"},
   "encoding":{"x":{"datum":0.6},"y":{"datum":55.9}}}
 ]
}
]
}
